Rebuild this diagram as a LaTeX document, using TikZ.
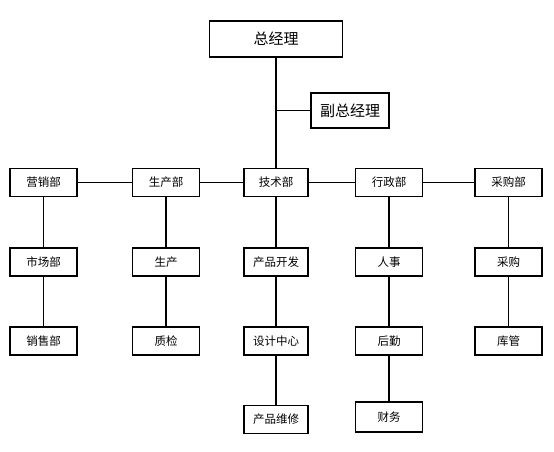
\documentclass[tikz,border=0pt]{standalone}
\usepackage{fontspec}
\newfontfamily\cjk{Noto Sans CJK SC}
\usetikzlibrary{positioning}
\tikzset{
  dept/.style={draw,line width=1.3pt,minimum width=67pt,minimum height=28pt,inner sep=0pt,font=\cjk\fontsize{11.5}{12}\selectfont},
  boss/.style={dept,minimum width=133pt,minimum height=36pt,font=\cjk\fontsize{15}{16}\selectfont},
  link/.style={line width=1.1pt}
}

\begin{document}
\begin{tikzpicture}[x=1pt,y=-1pt]
    \useasboundingbox (0,0) rectangle (554,451);
    % top
    \node[boss] (gm) at (276,39) {总经理};
    \node[boss,minimum width=78pt,minimum height=35pt] (vgm) at (350,110.5) {副总经理};

    % departments
    \node[dept] (yx) at (43.5,182.5) {营销部};
    \node[dept] (sc) at (166,182.5) {生产部};
    \node[dept,minimum width=64pt] (js) at (276,182.5) {技术部};
    \node[dept] (xz) at (389,182.5) {行政部};
    \node[dept] (cg) at (508.5,182.5) {采购部};

    \node[dept] (scb) at (43.5,262) {市场部};
    \node[dept] (prod) at (166,262) {生产};
    \node[dept,minimum width=64pt] (kf) at (276,262) {产品开发};
    \node[dept] (rs) at (389,262) {人事};
    \node[dept] (cgb) at (508.5,262) {采购};

    \node[dept] (xs) at (43.5,341) {销售部};
    \node[dept] (zj) at (166,341) {质检};
    \node[dept,minimum width=64pt] (sj) at (276,341) {设计中心};
    \node[dept] (hq) at (389,341) {后勤};
    \node[dept] (kg) at (508.5,341) {库管};

    \node[dept,minimum width=64pt] (wx) at (276,419.5) {产品维修};
    \node[dept,minimum height=30pt] (cw) at (389,417) {财务};

    % lines
    \draw[link] (gm) -- (js);
    \draw[link] (vgm.west) -- (vgm.west -| gm);
    \draw[link] (yx) -- (sc) -- (js) -- (xz) -- (cg);
    \draw[link] (yx) -- (scb) -- (xs);
    \draw[link] (sc) -- (prod) -- (zj);
    \draw[link] (js) -- (kf) -- (sj) -- (wx);
    \draw[link] (xz) -- (rs) -- (hq) -- (cw);
    \draw[link] (cg) -- (cgb) -- (kg);
\end{tikzpicture}
\end{document}
